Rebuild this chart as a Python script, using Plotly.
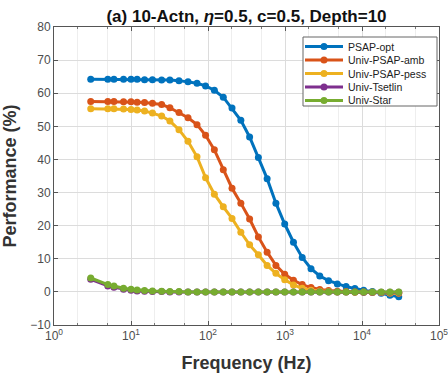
import plotly.graph_objects as go

freq = [3, 5, 6, 8, 10, 12, 15, 19, 25, 32, 42, 55, 72, 93, 121, 158, 205, 267, 347, 451,
        586, 762, 991, 1288, 1674, 2176, 2829, 3678, 4781, 6215, 8080, 10504, 13655, 17751,
        23077, 30000]

psap_opt = [64.2, 64.2, 64.2, 64.2, 64.2, 64.2, 64.1, 64.1, 64.0, 64.0, 63.8, 63.5, 63.0, 62.2,
            60.9, 58.8, 55.5, 51.8, 46.8, 40.6, 34.2, 26.8, 20.5, 15.0, 10.4, 7.0, 4.8, 3.4,
            2.4, 1.6, 1.0, 0.5, 0.1, -0.4, -1.0, -1.5]
univ_amb = [57.5, 57.5, 57.5, 57.4, 57.4, 57.3, 57.2, 57.0, 56.6, 55.6, 54.2, 52.6, 50.5, 47.3,
            42.9, 36.9, 31.3, 26.8, 22.0, 16.6, 12.0, 8.0, 5.3, 3.5, 2.2, 1.3, 0.7, 0.4,
            0.2, 0.1, 0.0, 0.0, -0.1, -0.2, -0.3, -0.4]
univ_pess = [55.3, 55.3, 55.3, 55.2, 55.1, 54.9, 54.6, 54.0, 53.1, 51.6, 49.0, 45.5, 40.8, 34.5,
             29.5, 25.7, 22.2, 18.0, 14.2, 11.2, 8.0, 5.6, 3.7, 2.1, 1.1, 0.5, 0.2, 0.1,
             0.0, 0.0, -0.1, -0.1, -0.2, -0.2, -0.3, -0.3]
univ_tsetlin = [3.8, 1.8, 1.4, 0.8, 0.5, 0.3, 0.2, 0.1, 0.1, 0.0, 0.0, 0.0, 0.0, 0.0,
                0.0, 0.0, 0.0, 0.0, 0.0, 0.0, 0.0, 0.0, 0.0, 0.0, 0.0, 0.0, 0.0, 0.0,
                0.0, 0.0, 0.0, -0.1, -0.1, -0.1, -0.1, -0.1]
univ_star = [4.2, 2.2, 1.8, 1.1, 0.8, 0.6, 0.4, 0.3, 0.2, 0.1, 0.1, 0.0, 0.0, 0.0,
             0.0, 0.0, 0.0, 0.0, 0.0, 0.0, 0.0, 0.0, 0.0, 0.0, 0.0, 0.0, 0.0, 0.0,
             0.0, 0.0, 0.0, 0.0, 0.0, 0.0, 0.0, 0.0]

series_names = ["PSAP-opt", "Univ-PSAP-amb", "Univ-PSAP-pess", "Univ-Tsetlin", "Univ-Star"]
series_values = [psap_opt, univ_amb, univ_pess, univ_tsetlin, univ_star]
series_colors = ["#0072BD", "#D95319", "#EDB120", "#7E2F8E", "#77AC30"]

x_tickvals = [1, 10, 100, 1000, 10000, 100000]
x_ticktext = ["10<sup>0</sup>", "10<sup>1</sup>", "10<sup>2</sup>", "10<sup>3</sup>",
              "10<sup>4</sup>", "10<sup>5</sup>"]
y_tickvals = [-10, 0, 10, 20, 30, 40, 50, 60, 70, 80]

W, H = 448, 375
ML, MR, MT, MB = 54, 9, 27, 50
PW, PH = W - ML - MR, H - MT - MB


def px(xp):
    return (xp - ML) / PW


def py(yp):
    return (H - MB - yp) / PH


FONT = "Liberation Sans, Arial, sans-serif"

fig = go.Figure()
for name, vals, col in zip(series_names, series_values, series_colors):
    fig.add_trace(go.Scatter(
        x=freq, y=vals, name=name, mode="lines+markers",
        line=dict(color=col, width=3),
        marker=dict(color=col, size=7),
        showlegend=False,
    ))

# Compact MATLAB-like legend box
shapes = [dict(type="rect", xref="paper", yref="paper",
               x0=px(303), x1=px(437), y0=py(106), y1=py(37),
               line=dict(color="#666", width=1), fillcolor="white", layer="above")]
annotations = []
for i, (name, col) in enumerate(zip(series_names, series_colors)):
    yc = 46.5 + 13.5 * i
    shapes.append(dict(type="line", xref="paper", yref="paper",
                       x0=px(305), x1=px(343), y0=py(yc), y1=py(yc),
                       line=dict(color=col, width=3), layer="above"))
    shapes.append(dict(type="circle", xref="paper", yref="paper",
                       xsizemode="pixel", ysizemode="pixel",
                       xanchor=px(324), yanchor=py(yc),
                       x0=-3.5, x1=3.5, y0=-3.5, y1=3.5,
                       line=dict(color=col, width=0), fillcolor=col, layer="above"))
    annotations.append(dict(xref="paper", yref="paper", x=px(346), y=py(yc),
                            xanchor="left", yanchor="middle", showarrow=False,
                            text=name, font=dict(family=FONT, size=10.5, color="#222")))

axis_font = dict(family=FONT, size=12, color="#4d4d4d")

fig.update_layout(
    width=W, height=H,
    margin=dict(l=ML, r=MR, t=MT, b=MB, autoexpand=False),
    paper_bgcolor="white", plot_bgcolor="white",
    title=dict(
        text="<b>(a) 10-Actn, <i>η</i>=0.5, c=0.5, Depth=10</b>",
        xref="paper", x=0.5, xanchor="center",
        yref="container", y=1 - 16 / H, yanchor="middle",
        font=dict(family=FONT, size=17, color="#111"),
        automargin=False,
    ),
    showlegend=False,
    shapes=shapes,
    annotations=annotations,
    font=axis_font,
)

fig.update_xaxes(
    type="log", range=[0, 5], automargin=False,
    tickvals=x_tickvals, ticktext=x_ticktext, ticklabeloverflow="allow",
    ticks="inside", ticklen=4, tickcolor="#555", mirror="ticks",
    showline=True, linecolor="#555", linewidth=1,
    showgrid=True, gridcolor="#dcdcdc", gridwidth=1,
    minor=dict(ticks="inside", ticklen=2, tickcolor="#777", showgrid=True, gridcolor="#eeeeee"),
    zeroline=False,
    tickfont=axis_font,
    title=dict(text="<b>Frequency (Hz)</b>", standoff=13,
               font=dict(family=FONT, size=18, color="#333")),
)
fig.update_yaxes(
    range=[-10, 80], tickvals=y_tickvals, automargin=False,
    ticks="inside", ticklen=4, tickcolor="#555", mirror="ticks",
    showline=True, linecolor="#555", linewidth=1,
    showgrid=True, gridcolor="#dcdcdc", gridwidth=1,
    zeroline=False,
    tickfont=axis_font,
    title=dict(text="<b>Performance (%)</b>", standoff=8,
               font=dict(family=FONT, size=18, color="#333")),
)

fig.write_html("out.html")
